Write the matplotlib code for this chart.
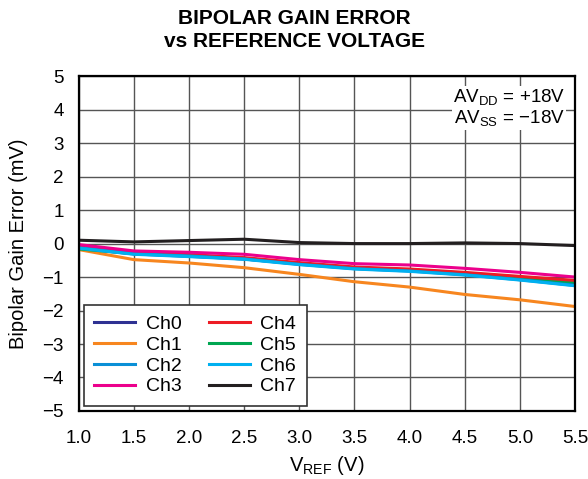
import matplotlib
matplotlib.use("Agg")
import matplotlib.pyplot as plt
import numpy as np

plt.rcParams['font.family'] = ['Liberation Sans', 'DejaVu Sans']

vref = [1.0, 1.5, 2.0, 2.5, 3.0, 3.5, 4.0, 4.5, 5.0, 5.5]

ch0 = [-0.14, -0.31, -0.38, -0.46, -0.61, -0.74, -0.81, -0.92, -1.06, -1.22]
ch1 = [-0.18, -0.48, -0.58, -0.72, -0.92, -1.14, -1.30, -1.52, -1.68, -1.88]
ch2 = [-0.12, -0.30, -0.37, -0.46, -0.62, -0.75, -0.82, -0.93, -1.08, -1.25]
ch3 = [-0.03, -0.22, -0.26, -0.32, -0.48, -0.60, -0.64, -0.74, -0.86, -1.00]
ch4 = [-0.10, -0.27, -0.33, -0.42, -0.57, -0.70, -0.76, -0.86, -0.98, -1.10]
ch5 = [-0.16, -0.30, -0.36, -0.44, -0.60, -0.72, -0.80, -0.90, -1.03, -1.16]
ch6 = [-0.14, -0.32, -0.39, -0.47, -0.63, -0.76, -0.83, -0.94, -1.09, -1.26]
ch7 = [0.10, 0.05, 0.09, 0.13, 0.03, 0.00, 0.00, 0.02, 0.00, -0.06]

names = ["Ch0", "Ch1", "Ch2", "Ch3", "Ch4", "Ch5", "Ch6", "Ch7"]
colors = ["#2e3192", "#f7861f", "#0a8fd6", "#ec008c",
          "#ed1c24", "#00a651", "#00b0f0", "#231f20"]
series = [ch0, ch1, ch2, ch3, ch4, ch5, ch6, ch7]

fig = plt.figure(figsize=(5.88, 4.79), dpi=100)
ax = fig.add_axes([0.134, 0.142, 0.844, 0.699])

# draw order so the top visible lines match the picture
order = [0, 1, 5, 4, 2, 6, 3, 7]
lines = {}
for i in order:
    ln, = ax.plot(vref, series[i], color=colors[i], lw=2.2, label=names[i])
    lines[i] = ln

ax.set_xlim(1.0, 5.5)
ax.set_ylim(-5, 5)
ax.set_xticks(np.arange(1.0, 5.51, 0.5))
ax.set_yticks(range(-5, 6))
ax.set_yticklabels([str(v).replace('-', '\u2212') for v in range(-5, 6)])
ax.grid(True, color='#555555', lw=1.0)
ax.tick_params(length=0, labelsize=13.5)
ax.tick_params(axis='x', pad=14)
ax.tick_params(axis='y', pad=11)
for s in ax.spines.values():
    s.set_linewidth(1.6)

ax.set_xlabel("V$_{\\mathregular{REF}}$ (V)", fontsize=14.5, labelpad=5)
ax.set_ylabel("Bipolar Gain Error (mV)", fontsize=14.5, labelpad=10)
fig.suptitle("BIPOLAR GAIN ERROR\nvs REFERENCE VOLTAGE", fontsize=15,
             fontweight='bold', y=0.982, linespacing=1.3)

ax.text(0.98, 0.967, "AV$_{\\mathregular{DD}}$ = +18V\nAV$_{\\mathregular{SS}}$ = \u221218V",
        transform=ax.transAxes, ha='right', va='top', fontsize=13.5,
        linespacing=1.05, bbox=dict(facecolor='white', edgecolor='none', pad=1.0))

leg = ax.legend([lines[i] for i in range(8)], names, ncol=2, loc='lower left',
                bbox_to_anchor=(0.0, 0.0), fontsize=14, frameon=True,
                fancybox=False, edgecolor='#333333', framealpha=1,
                handlelength=2.1, handletextpad=0.55, columnspacing=1.4,
                labelspacing=0.16, borderpad=0.55, borderaxespad=0.25)
leg.get_frame().set_linewidth(1.2)

fig.savefig("out.png", dpi=100)
